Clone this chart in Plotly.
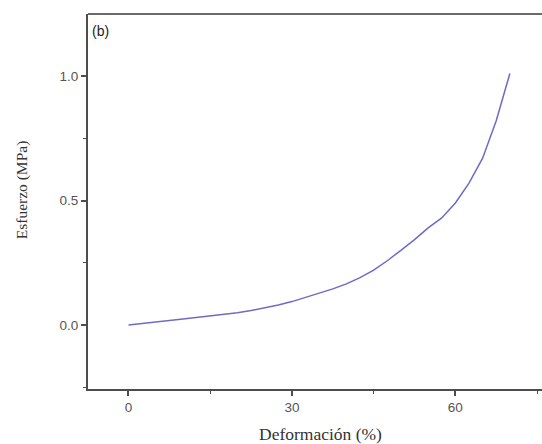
import plotly.graph_objects as go

# Data
strain = [0, 2.5, 5, 7.5, 10, 12.5, 15, 17.5, 20, 22.5, 25, 27.5, 30, 32.5, 35, 37.5, 40,
          42.5, 45, 47.5, 50, 52.5, 55, 57.5, 60, 62.5, 65, 67.5, 70]
stress = [0.0, 0.005, 0.012, 0.018, 0.024, 0.03, 0.036, 0.042, 0.049, 0.058, 0.068, 0.08,
          0.094, 0.11, 0.127, 0.145, 0.165, 0.19, 0.22, 0.258, 0.30, 0.343, 0.39, 0.43,
          0.49, 0.57, 0.67, 0.82, 1.01]

x_ticks = [0, 30, 60]
y_ticks = [0.0, 0.5, 1.0]

fig = go.Figure()
fig.add_trace(go.Scatter(x=strain, y=stress, mode="lines",
                         line=dict(color="#6b6bc9", width=1.5), showlegend=False))

axis_common = dict(showgrid=False, zeroline=False, showline=True, linecolor="#4d4d4d",
                   linewidth=2, ticks="outside", ticklen=5, tickwidth=1.5, tickcolor="#4d4d4d",
                   tickfont=dict(family="Liberation Sans, Arial", size=13.5, color="#555555"),
                   minor=dict(ticks="outside", ticklen=3, tickwidth=1.2, tickcolor="#4d4d4d"))

fig.update_xaxes(range=[-7.43, 75.9], tickvals=x_ticks, mirror=False,
                 minor_tickvals=[15, 45, 75], **axis_common)
fig.update_yaxes(range=[-0.257, 1.249], tickvals=y_ticks, tickformat=".1f", mirror=False,
                 minor_tickvals=[-0.25, 0.25, 0.75], **axis_common)

fig.add_shape(type="line", xref="paper", yref="paper", x0=0, x1=1.01, y0=1, y1=1,
              line=dict(color="#6a6a6a", width=2))

fig.update_layout(
    width=542, height=444,
    margin=dict(l=88, r=0, t=14, b=55),
    paper_bgcolor="white", plot_bgcolor="white",
    annotations=[
        dict(text="Deformación (%)", xref="paper", yref="paper", x=0.512, y=0,
             yshift=-57, showarrow=False, xanchor="center", yanchor="bottom",
             font=dict(family="Liberation Serif, Times New Roman", size=17.5, color="#333333")),
        dict(text="Esfuerzo (MPa)", xref="paper", yref="paper", x=0, y=0.53,
             xshift=-66, textangle=-90, showarrow=False, xanchor="center", yanchor="middle",
             font=dict(family="Liberation Serif, Times New Roman", size=15.5, color="#333333")),
        dict(text="(b)", xref="paper", yref="paper", x=0, y=1, xshift=2, yshift=-7,
             showarrow=False, xanchor="left", yanchor="top",
             font=dict(family="Liberation Sans, Arial", size=14, color="#222222")),
    ],
)

fig.write_html("out.html")
